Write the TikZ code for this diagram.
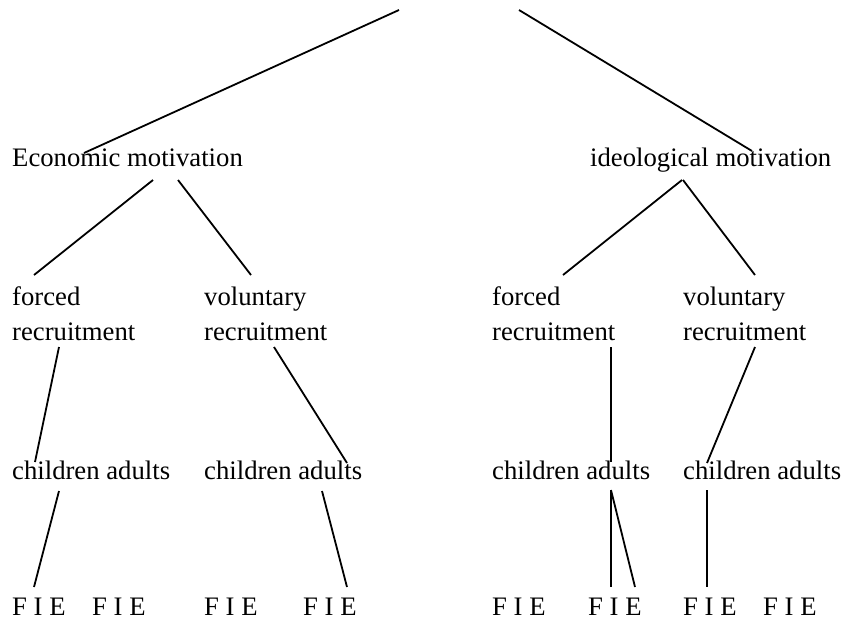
\documentclass[tikz,border=0pt]{standalone}
\usepackage{fontspec}
\setmainfont{Liberation Serif}
\begin{document}
\begin{tikzpicture}[x=1pt,y=-1pt,
  lbl/.style={anchor=base west,inner sep=0pt,font=\fontsize{26.7}{35}\selectfont,align=left},
  conn/.style={line width=1.8pt}]
\useasboundingbox (0,0) rectangle (844,622);
% level 1
\node[lbl] (eco) at (12,166) {Economic motivation};
\node[lbl] (ideo) at (590,166) {ideological motivation};
% level 2 (base anchor = baseline of the last line)
\node[lbl] (f1) at (12,340) {forced\\recruitment};
\node[lbl] (v1) at (204,340) {voluntary\\recruitment};
\node[lbl] (f2) at (492,340) {forced\\recruitment};
\node[lbl] (v2) at (683,340) {voluntary\\recruitment};
% level 3
\node[lbl] (c1) at (12,479) {children adults};
\node[lbl] (c2) at (204,479) {children adults};
\node[lbl] (c3) at (492,479) {children adults};
\node[lbl] (c4) at (683,479) {children adults};
% level 4
\node[lbl] (e1) at (12,615) {F I E};
\node[lbl] (e2) at (92,615) {F I E};
\node[lbl] (e3) at (204,615) {F I E};
\node[lbl] (e4) at (303,615) {F I E};
\node[lbl] (e5) at (492,615) {F I E};
\node[lbl] (e6) at (588,615) {F I E};
\node[lbl] (e7) at (683,615) {F I E};
\node[lbl] (e8) at (763,615) {F I E};
% connector end points
\coordinate (t1) at (399,10);
\coordinate (t2) at (519,10);
\coordinate (ecoIn) at (84,153);
\coordinate (ideoIn) at (752,151);
\coordinate (ecoL) at (153,180);
\coordinate (ecoR) at (178,180);
\coordinate (ideoL) at (682,180);
\coordinate (ideoR) at (683,180);
\coordinate (f1In) at (34,275);
\coordinate (v1In) at (251,275);
\coordinate (f2In) at (563,275);
\coordinate (v2In) at (755,275);
\coordinate (f1Out) at (59,347);
\coordinate (v1Out) at (274,347);
\coordinate (f2Out) at (611,347);
\coordinate (v2Out) at (755,347);
\coordinate (c1In) at (35,462);
\coordinate (c2In) at (347,463);
\coordinate (c3In) at (611,462);
\coordinate (c4In) at (707,463);
\coordinate (c1Out) at (59,491);
\coordinate (c2Out) at (322,491);
\coordinate (c3Out) at (611,490);
\coordinate (c4Out) at (707,490);
\coordinate (e1In) at (34,587);
\coordinate (e4In) at (347,587);
\coordinate (e6InA) at (611,587);
\coordinate (e6InB) at (635,587);
\coordinate (e7In) at (707,587);
% connectors
\draw[conn] (t1) -- (ecoIn);
\draw[conn] (t2) -- (ideoIn);
\draw[conn] (ecoL) -- (f1In);
\draw[conn] (ecoR) -- (v1In);
\draw[conn] (ideoL) -- (f2In);
\draw[conn] (ideoR) -- (v2In);
\draw[conn] (f1Out) -- (c1In);
\draw[conn] (v1Out) -- (c2In);
\draw[conn] (f2Out) -- (c3In);
\draw[conn] (v2Out) -- (c4In);
\draw[conn] (c1Out) -- (e1In);
\draw[conn] (c2Out) -- (e4In);
\draw[conn] (c3Out) -- (e6InA);
\draw[conn] (c3Out) -- (e6InB);
\draw[conn] (c4Out) -- (e7In);
\end{tikzpicture}
\end{document}
